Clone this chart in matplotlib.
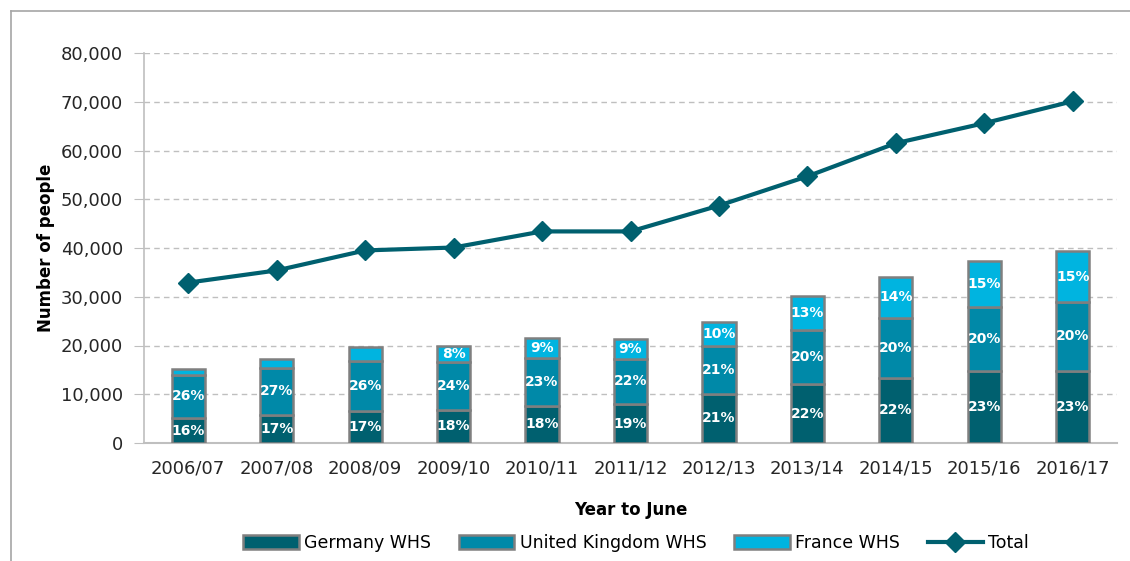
import matplotlib.pyplot as plt
from matplotlib.lines import Line2D
from matplotlib.ticker import FuncFormatter

years = ["2006/07", "2007/08", "2008/09", "2009/10", "2010/11", "2011/12",
         "2012/13", "2013/14", "2014/15", "2015/16", "2016/17"]
germany = [5100, 5800, 6600, 6800, 7600, 8000, 10100, 12100, 13400, 14800, 14800]
uk = [8900, 9600, 10300, 9900, 9900, 9300, 9800, 11100, 12300, 13200, 14200]
france = [1200, 1900, 2800, 3200, 4100, 4100, 5000, 7000, 8400, 9400, 10300]
total = [32900, 35400, 39500, 40100, 43400, 43400, 48700, 54700, 61500, 65600, 70100]

germany_pct = ["16%", "17%", "17%", "18%", "18%", "19%", "21%", "22%", "22%", "23%", "23%"]
uk_pct = ["26%", "27%", "26%", "24%", "23%", "22%", "21%", "20%", "20%", "20%", "20%"]
france_pct = ["", "", "", "8%", "9%", "9%", "10%", "13%", "14%", "15%", "15%"]

c_de = "#00606f"
c_uk = "#0089a8"
c_fr = "#00b4e0"
edge = "#7f7f7f"

fig = plt.figure(figsize=(11.3, 5.61), dpi=100)
ax = fig.add_axes([144 / 1130, 1 - 443 / 561, (1117 - 144) / 1130, (443 - 53) / 561])

x = list(range(len(years)))
w = 0.375
bottom_uk = germany
bottom_fr = [g + u for g, u in zip(germany, uk)]
ax.bar(x, germany, w, color=c_de, edgecolor=edge, linewidth=1.8, zorder=3, label="Germany WHS")
ax.bar(x, uk, w, bottom=bottom_uk, color=c_uk, edgecolor=edge, linewidth=1.8, zorder=3,
       label="United Kingdom WHS")
ax.bar(x, france, w, bottom=bottom_fr, color=c_fr, edgecolor=edge, linewidth=1.8, zorder=3,
       label="France WHS")

for i in x:
    ax.text(i, germany[i] / 2, germany_pct[i], ha="center", va="center",
            color="white", fontsize=10, fontweight="bold", zorder=4)
    ax.text(i, bottom_uk[i] + uk[i] / 2, uk_pct[i], ha="center", va="center",
            color="white", fontsize=10, fontweight="bold", zorder=4)
    if france_pct[i]:
        ax.text(i, bottom_fr[i] + france[i] / 2, france_pct[i], ha="center", va="center",
                color="white", fontsize=10, fontweight="bold", zorder=4)

ax.plot(x, total, color=c_de, linewidth=3, marker="D", markersize=10, zorder=5, label="Total")

ax.set_xlim(-0.5, len(years) - 0.5)
ax.set_ylim(0, 80000)
ax.set_yticks(range(0, 80001, 10000))
ax.yaxis.set_major_formatter(FuncFormatter(lambda v, p: f"{int(v):,}"))
ax.set_xticks(x)
ax.set_xticklabels(years)
ax.tick_params(axis="y", labelsize=13, length=7, color="#bfbfbf", labelcolor="#262626", pad=8)
ax.tick_params(axis="x", labelsize=13, length=0, labelcolor="#262626", pad=12)
ax.grid(axis="y", color="#bfbfbf", linestyle=(0, (4, 3)), linewidth=1, zorder=0)
for s in ["top", "right"]:
    ax.spines[s].set_visible(False)
ax.spines["left"].set_color("#bfbfbf")
ax.spines["bottom"].set_color("#bfbfbf")
ax.spines["left"].set_linewidth(1.2)
ax.spines["bottom"].set_linewidth(1.5)

ax.set_ylabel("Number of people", fontsize=12, fontweight="bold", labelpad=4)
ax.set_xlabel("Year to June", fontsize=12, fontweight="bold", labelpad=17)

handles, labels = ax.get_legend_handles_labels()
order = [1, 2, 3, 0]
leg = fig.legend([handles[i] for i in order], [labels[i] for i in order],
                 loc="center", bbox_to_anchor=(0.563, 1 - 543 / 561), ncol=4,
                 frameon=False, fontsize=12.5, handlelength=3.2, handleheight=0.8,
                 columnspacing=1.6, handletextpad=0.3)

# outer border (top and left visible)
fig.add_artist(Line2D([11 / 1130, 1], [1 - 11 / 561, 1 - 11 / 561], color="#a6a6a6", linewidth=1.2))
fig.add_artist(Line2D([11 / 1130, 11 / 1130], [0, 1 - 11 / 561], color="#a6a6a6", linewidth=1.2))

plt.savefig("out.png", dpi=100)
